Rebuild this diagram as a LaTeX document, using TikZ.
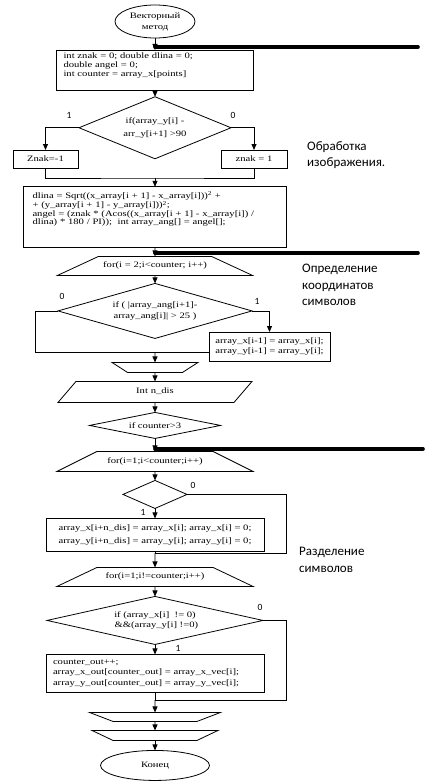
\documentclass[tikz,border=0pt]{standalone}
\usepackage{fontspec}
\setmainfont{Liberation Serif}
\newfontfamily\dgfont[FakeStretch=1.28]{Liberation Serif}
\newfontfamily\notefont{Carlito}
\newcommand\dgf[1]{\dgfont\fontsize{8.3}{#1}\selectfont}
\usetikzlibrary{shapes.geometric,arrows.meta,positioning}

\begin{document}
\begin{tikzpicture}[
    x=1pt, y=-1pt,
    every node/.style={font=\dgf{9}},
    box/.style={draw,line width=0.8pt,outer sep=0pt,inner xsep=7pt,inner ysep=3pt,align=left},
    cbox/.style={draw,line width=0.8pt,outer sep=0pt,inner sep=2pt,align=center},
    dia/.style={diamond,draw,line width=0.8pt,outer sep=0pt,inner sep=0pt,align=center},
    terminal/.style={ellipse,draw,line width=0.8pt,outer sep=0pt,inner sep=0pt,align=center,font=\dgf{11}},
    loopbeg/.style={trapezium,draw,line width=0.8pt,outer sep=0pt,inner xsep=0pt,align=center,
                    text height=6pt,text depth=2pt},
    loopend/.style={loopbeg,shape border rotate=180,text height=0pt,text depth=0pt},
    iobox/.style={loopbeg},
    arrow/.style={-{Triangle[length=6pt,width=5pt]},line width=0.8pt},
    conn/.style={line width=0.8pt},
    divider/.style={line width=3.6pt,line cap=round},
    lab/.style={font=\notefont\fontsize{9.5}{10}\selectfont,inner sep=0pt},
    sidenote/.style={font=\notefont\fontsize{13}{16.5}\selectfont,align=left,anchor=west,inner sep=0pt}
  ]
    \useasboundingbox (0,0) rectangle (434,781);

    % main column
    \node[terminal,minimum width=80pt,minimum height=33pt] (start) at (155,21.5) {Векторный\\метод};
    \node[box,below=12pt of start,text width=183pt,text depth=29pt] (init)
        {int znak = 0; double dlina = 0;\\double angel = 0;\\int counter = array\_x[points]};
    \node[dia,below=6pt of init,aspect=2.45,minimum width=152pt,minimum height=62pt,font=\dgf{13}] (cmp1)
        {if(array\_y[i] -\\arr\_y[i+1] >90};
    \node[cbox,minimum width=65pt,minimum height=18pt] (neg) at (45.5,159) {Znak=-1};
    \node[cbox,minimum width=66pt,minimum height=18pt] (pos) at (254,159) {znak = 1};

    \node[box,below=28pt of cmp1,inner xsep=9pt,inner ysep=5pt,text width=245pt,text depth=44pt,font=\dgf{8.3}] (calc)
        {dlina = Sqrt((x\_array[i + 1] - x\_array[i]))\textsuperscript{2} +\\+ (y\_array[i + 1] - y\_array[i]))\textsuperscript{2};\\angel = (znak * (Acos((x\_array[i + 1] - x\_array[i]) /\\dlina) * 180 / PI));\ \ int array\_ang[] = angel[];};

    \node[loopbeg,below=9pt of calc,text width=113pt,inner ysep=5.5pt,trapezium angle=24.86] (for1)
        {for(i = 2;i<counter; i++)};
    \node[dia,below=8pt of for1,aspect=3.53,minimum width=194pt,minimum height=55pt,font=\dgf{10.5}] (cmp2)
        {if ( |array\_ang[i+1]-\\array\_ang[i]| > 25 )};
    \node[cbox,minimum width=121pt,minimum height=29pt,font=\dgf{9.3}] (move) at (269.5,346.5)
        {array\_x[i-1] = array\_x[i];\\array\_y[i-1] = array\_y[i];};
    \node[loopend,below=24pt of cmp2,text width=55pt,inner ysep=5pt,trapezium angle=32.8] (end1) {};

    \node[iobox,below=9pt of end1,text width=158pt,inner ysep=6.5pt,
          trapezium left angle=49.4,trapezium right angle=130.6] (ndis) {Int n\_dis};
    \node[dia,below=10pt of ndis,aspect=5.04,minimum width=131pt,minimum height=26pt] (cmp3) {if counter>3};

    \node[loopbeg,below=13pt of cmp3,text width=116pt,inner ysep=6pt,trapezium angle=26.57] (for2)
        {for(i=1;i<counter;i++)};
    \node[dia,below=9pt of for2,aspect=2.29,minimum width=64pt,minimum height=28pt] (cmp4) {};
    \node[cbox,below=10pt of cmp4,minimum width=218pt,minimum height=33pt,font=\dgf{12.5}] (split)
        {array\_x[i+n\_dis] = array\_x[i]; array\_x[i] = 0;\\array\_y[i+n\_dis] = array\_y[i]; array\_y[i] = 0;};

    \node[loopbeg,below=16pt of split,text width=116pt,inner ysep=5.5pt,trapezium angle=25.4] (for3)
        {for(i=1;i!=counter;i++)};
    \node[dia,below=10pt of for3,aspect=4.5,minimum width=216pt,minimum height=48pt,font=\dgf{10}] (cmp5)
        {if (array\_x[i]\ \ != 0)\\\ \&\&(array\_y[i] !=0)};
    \node[box,below=10pt of cmp5,text width=204pt,minimum height=38pt,font=\dgf{10.5}] (out)
        {counter\_out++;\\array\_x\_out[counter\_out] = array\_x\_vec[i];\\array\_y\_out[counter\_out] = array\_y\_vec[i];};

    \node[loopend,below=20pt of out,text width=84pt,inner ysep=4.5pt,trapezium angle=20.96] (end2) {};
    \node[loopend,below=9pt of end2,text width=84pt,inner ysep=5pt,trapezium angle=25.46] (end3) {};
    \node[terminal,below=10pt of end3,minimum width=109pt,minimum height=30pt] (stop) {Конец};

    % branch labels
    \node[lab] (c1y) at ([xshift=-10pt,yshift=12pt]cmp1.west) {1};
    \node[lab] (c1n) at ([xshift=2pt,yshift=12pt]cmp1.east) {0};
    \node[lab] (c2n) at ([xshift=4pt,yshift=14pt]cmp2.west) {0};
    \node[lab] (c2y) at ([xshift=5pt,yshift=9pt]cmp2.east) {1};
    \node[lab] (c4n) at ([xshift=6pt,yshift=9pt]cmp4.east) {0};
    \node[lab] (c4y) at ([xshift=-12pt,yshift=-4pt]cmp4.south) {1};
    \node[lab] (c5n) at ([xshift=-3pt,yshift=13pt]cmp5.east) {0};
    \node[lab] (c5y) at ([xshift=23pt,yshift=-4pt]cmp5.south) {1};

    % section notes
    \node[sidenote] (n1) at (307,155) {Обработка\\изображения.};
    \node[sidenote] (n2) at (302,285) {Определение\\координатов\\символов};
    \node[sidenote] (n3) at (299,560) {Разделение\\символов};

    \coordinate (d1) at (418,47);
    \coordinate (d2) at (418,253);
    \coordinate (d3) at (423,449);
    \coordinate (j1) at (155,178);
    \coordinate (j2) at (155,352);
    \coordinate (j3) at (155,553);
    \coordinate (j4) at (155,700);

    \draw[arrow] (start) -- (init);
    \draw[divider] (d1) -- (d1 -| init.north);
    \draw[arrow] (init) -- (cmp1);
    \draw[arrow] (cmp1.west) -| (neg);
    \draw[arrow] (cmp1.east) -| (pos);
    \draw[conn] (neg) |- (j1) -| (pos);
    \draw[arrow] (j1) -- (calc);
    \draw[arrow] (calc) -- (for1);
    \draw[divider] (d2) -- (d2 -| calc.south);
    \draw[arrow] (for1) -- (cmp2);
    \draw[conn] (cmp2.west) -- ++(-23,0) |- (move.west |- j2);
    \draw[arrow] (cmp2.east) -| (move);
    \draw[arrow] (j2) -- (end1);
    \draw[arrow] (end1) -- (ndis);
    \draw[arrow] (ndis) -- (cmp3);
    \draw[arrow] (cmp3) -- (for2);
    \draw[divider] (d3) -- (d3 -| for2.north);
    \draw[arrow] (for2) -- (cmp4);
    \draw[arrow] (cmp4) -- (split);
    \draw[conn] (cmp4.east) -| (j3 -| 286,0) -- (j3);
    \draw[conn] (split) -- (j3);
    \draw[arrow] (j3) -- (for3);
    \draw[arrow] (for3) -- (cmp5);
    \draw[arrow] (cmp5) -- (out);
    \draw[conn] (cmp5.east) -| (j4 -| 286,0) -- (j4);
    \draw[conn] (out) -- (j4);
    \draw[arrow] (j4) -- (end2);
    \draw[arrow] (end2) -- (end3);
    \draw[arrow] (end3) -- (stop);
\end{tikzpicture}
\end{document}
